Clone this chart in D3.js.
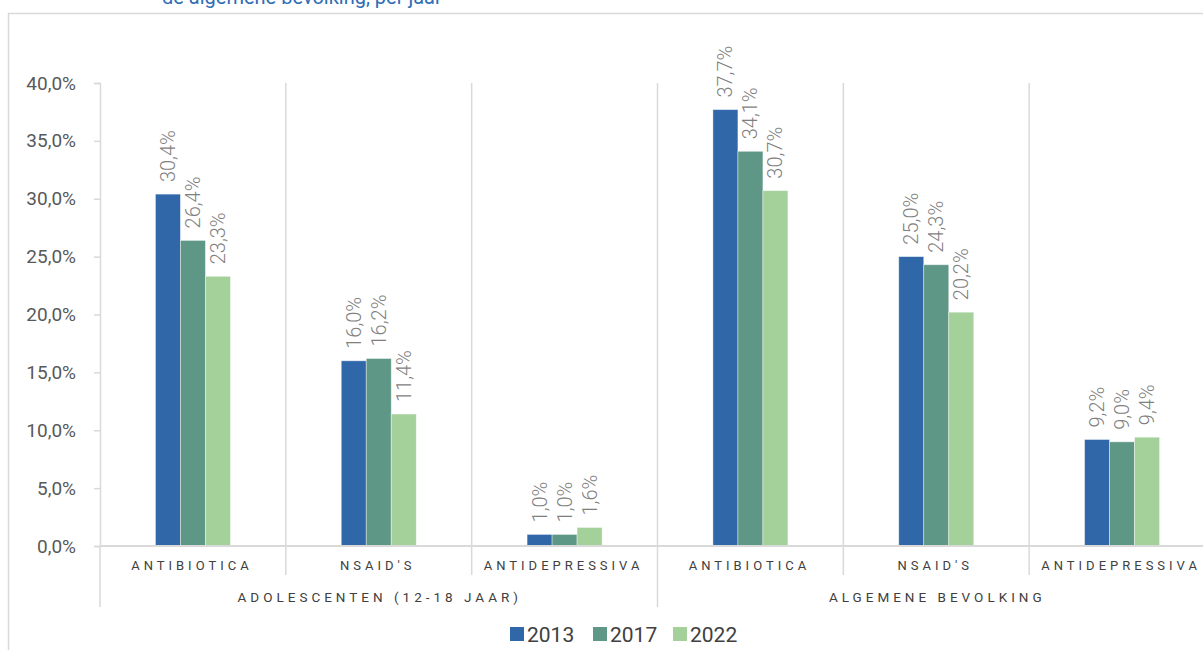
<!DOCTYPE html>
<html>
<head>
<meta charset="utf-8">
<script src="https://cdn.jsdelivr.net/npm/d3@7"></script>
<style>
  body { margin: 0; background: #fff; }
  svg { display: block; font-family: "Roboto", "Noto Sans", sans-serif; }
</style>
</head>
<body>
<svg id="chart" width="1203" height="650"></svg>
<script>
// data
var groups = ["Adolescenten (12-18 jaar)", "Algemene bevolking"];
var categories = ["Antibiotica", "NSAID's", "Antidepressiva"];
var years = ["2013", "2017", "2022"];
var adolescenten = [[30.4, 26.4, 23.3], [16.0, 16.2, 11.4], [1.0, 1.0, 1.6]];
var algemeen = [[37.7, 34.1, 30.7], [25.0, 24.3, 20.2], [9.2, 9.0, 9.4]];
var yTicks = [0, 5, 10, 15, 20, 25, 30, 35, 40];
var colors = ["#3067a9", "#5f9786", "#a4d09a"];

function drawChart() {
  var svg = d3.select("svg#chart");
  var fmt = function(v) { return d3.format(".1f")(v).replace(".", ",") + "%"; };

  // frame + cut-off title
  svg.append("path")
     .attr("d", "M8.5,660 L8.5,13.5 L1210,13.5")
     .attr("fill", "none").attr("stroke", "#d9d9d9").attr("stroke-width", 1.5);
  svg.append("text")
     .attr("x", 162).attr("y", 4)
     .style("font-size", "20px").style("fill", "#2f6db5")
     .text("de algemene bevolking, per jaar");

  // build rows from the arrays
  var rows = [];
  [adolescenten, algemeen].forEach(function(set, gi) {
    categories.forEach(function(c, ci) {
      rows.push({ key: gi + "-" + ci, group: gi, cat: c, values: set[ci] });
    });
  });

  var pLeft = 100, pRight = 1215, pTop = 83, pBottom = 546;

  var x = d3.scaleBand().domain(rows.map(function(d) { return d.key; }))
            .range([pLeft, pRight]).padding(0);
  var bw = x.bandwidth();
  var xIn = d3.scaleBand().domain(years).range([bw / 2 - 37.5, bw / 2 + 37.5]).padding(0);
  var y = d3.scaleLinear().domain([0, 40]).range([pBottom, pTop]);

  var lineColor = "#d9d9d9";

  // vertical separators inside plot
  rows.forEach(function(d, i) {
    if (i === 0) return;
    svg.append("line")
       .attr("x1", x(d.key)).attr("x2", x(d.key))
       .attr("y1", pTop).attr("y2", pBottom)
       .style("stroke", lineColor).style("stroke-width", 1.5);
  });

  // y axis
  var yAxis = svg.append("g")
     .attr("transform", "translate(" + pLeft + ",0)")
     .call(d3.axisLeft(y).tickValues(yTicks).tickFormat(fmt).tickSize(6).tickPadding(18));
  yAxis.select(".domain").attr("stroke", lineColor).attr("stroke-width", 1.5);
  yAxis.selectAll(".tick line").attr("stroke", lineColor).attr("stroke-width", 1.5);
  yAxis.selectAll(".tick text")
       .style("font-size", "19px").style("fill", "#595959")
       .style("font-family", "Roboto, sans-serif");

  // bars
  rows.forEach(function(d) {
    var g = svg.append("g").attr("transform", "translate(" + x(d.key) + ",0)");
    d.values.forEach(function(v, i) {
      g.append("rect")
       .attr("x", xIn(years[i])).attr("width", xIn.bandwidth())
       .attr("y", y(v)).attr("height", y(0) - y(v))
       .attr("fill", colors[i])
       .attr("stroke", "#ffffff").attr("stroke-opacity", 0.5).attr("stroke-width", 0.8);
      var cx = xIn(years[i]) + xIn.bandwidth() / 2;
      g.append("text")
       .attr("transform", "translate(" + (cx + 7) + "," + (y(v) - 12) + ") rotate(-90)")
       .style("font-size", "20px").style("font-weight", 300).style("fill", "#7f7f7f")
       .text(fmt(v));
    });
  });

  // x axis line
  svg.append("line")
     .attr("x1", pLeft).attr("x2", pRight).attr("y1", pBottom).attr("y2", pBottom)
     .style("stroke", lineColor).style("stroke-width", 2);

  // category labels and tick separators
  rows.forEach(function(d, i) {
    var isGroupEdge = (i % 3 === 0);
    svg.append("line")
       .attr("x1", x(d.key)).attr("x2", x(d.key))
       .attr("y1", pBottom).attr("y2", isGroupEdge ? 607 : 575)
       .style("stroke", lineColor).style("stroke-width", 1.5);
    svg.append("text")
       .attr("x", x(d.key) + bw / 2 - 1).attr("y", 570)
       .attr("text-anchor", "middle")
       .style("font-size", "13px").style("letter-spacing", "4px").style("fill", "#404040")
       .text(d.cat.toUpperCase());
  });
  groups.forEach(function(gname, gi) {
    var gx0 = x(rows[gi * 3].key);
    svg.append("text")
       .attr("x", gx0 + bw * 1.5 + 1).attr("y", 602)
       .attr("text-anchor", "middle")
       .style("font-size", "13.5px").style("letter-spacing", "4px").style("fill", "#404040")
       .text(gname.toUpperCase());
  });

  // legend
  var legendX = [510, 593, 673];
  years.forEach(function(yr, i) {
    svg.append("rect")
       .attr("x", legendX[i]).attr("y", 627).attr("width", 14).attr("height", 14)
       .attr("fill", colors[i]);
    svg.append("text")
       .attr("x", legendX[i] + 17).attr("y", 642)
       .style("font-size", "21px").style("fill", "#404040")
       .text(yr);
  });
}

drawChart();
</script>
</body>
</html>
